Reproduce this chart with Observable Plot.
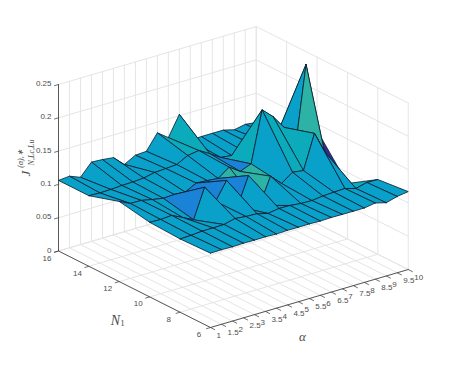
<!DOCTYPE html>
<html><head><meta charset="utf-8">
<style>html,body{margin:0;padding:0;background:#fff}svg{display:block}</style>
<script src="https://cdn.jsdelivr.net/npm/d3@7"></script>
<script src="https://cdn.jsdelivr.net/npm/@observablehq/plot@0.6"></script>
</head><body>
<script>
const alphaTicks = d3.range(1, 10.01, 0.5);
const nTicks = [6, 8, 10, 12, 14, 16];
const zTicks = [0, 0.05, 0.1, 0.15, 0.2, 0.25];

// surface heights, one row per N1, one value per alpha
const zN16 = [.106,.1075,.101,.119,.118,.116,.101,.110,.111,.134,.122,.152,.108,.109,.109,.109,.1047,.108,.106];
const zN14 = [.106,.1053,.1057,.1068,.1072,.1084,.1119,.1129,.1141,.1228,.1255,.116,.1054,.1035,.106,.109,.11,.111,.105];
const zN12 = [.1203,.1125,.1122,.1087,.1058,.1066,.1053,.114,.113,.1113,.1234,.1122,.1188,.195,.18,.159,.12,.244,.14];
const zN10 = [.112,.1114,.1126,.1047,.0964,.1405,.1143,.141,.097,.1387,.089,.128,.1123,.1243,.122,.173,.139,.05,.0832];
const zN8  = [.110,.1105,.112,.112,.1123,.1165,.1147,.114,.1096,.1122,.1119,.110,.1096,.1116,.1125,.1132,.1084,.1126,.1122];
const zN6  = [.1116,.112,.1115,.112,.1118,.112,.1113,.112,.1118,.112,.1115,.112,.1118,.1117,.1117,.1144,.110,.1146,.117];
const zRows = [zN6, zN8, zN10, zN12, zN14, zN16];

// facet shade per cell: row = lower N1 of the cell, column = lower alpha
const shadeN6  = "cccccccccccccccccc";
const shadeN8  = "ccccccccccccccccck";
const shadeN10 = "ccccbbbbbtttckkctn";
const shadeN12 = "cccccccccccbkccccc";
const shadeN14 = "ccccccccckkkcccccc";
const shadeRows = [shadeN6, shadeN8, shadeN10, shadeN12, shadeN14];
const shadeColors = {c: "#09a1ca", k: "#0babbb", t: "#2cb3a6", b: "#1a83d8", n: "#352a90"};

// view of the box: an oblique projection to the picture
const X = (a, n, z) => 210 + (a - 1) * 21.97 - (n - 6) * 15.2;
const Y = (a, n, z) => 327 - (a - 1) * 6.44 - (n - 6) * 7.65 - z * 666;
const pt = (a, n, z, id) => ({x: X(a, n, z), y: Y(a, n, z), id});

const aMin = 1, aMax = 10, nMin = 6, nMax = 16, zMax = 0.25;

// gridlines
const grid = [];
let g = 0;
for (const a of alphaTicks) {
  g++; grid.push(pt(a, nMin, 0, g), pt(a, nMax, 0, g), pt(a, nMax, zMax, g));
}
for (const n of nTicks) {
  g++; grid.push(pt(aMin, n, 0, g), pt(aMax, n, 0, g), pt(aMax, n, zMax, g));
}
for (const z of zTicks) {
  g++; grid.push(pt(aMin, nMax, z, g), pt(aMax, nMax, z, g), pt(aMax, nMin, z, g));
}

// surface facets, farthest first
const facets = [];
let f = 0;
for (let j = 4; j >= 0; j--) {
  for (let i = 17; i >= 0; i--) {
    const a0 = alphaTicks[i], a1 = alphaTicks[i + 1], n0 = nTicks[j], n1 = nTicks[j + 1];
    const shade = shadeColors[shadeRows[j][i]];
    f++;
    [[a0, n0, zRows[j][i]], [a1, n0, zRows[j][i + 1]], [a1, n1, zRows[j + 1][i + 1]], [a0, n1, zRows[j + 1][i]], [a0, n0, zRows[j][i]]]
      .forEach(([a, n, z]) => facets.push({...pt(a, n, z, f), shade}));
  }
}

// axis lines
const axes = [
  pt(aMin, nMax, zMax, "z"), pt(aMin, nMax, 0, "z"), pt(aMin, nMin, 0, "z"), pt(aMax, nMin, 0, "z")
];
const tick = (p, q) => ({x1: p.x, y1: p.y, x2: q.x, y2: q.y});
const ticks = [
  ...zTicks.map(z => tick(pt(aMin, nMax, z), pt(aMin - 0.2, nMax, z))),
  ...nTicks.map(n => tick(pt(aMin, n, 0), pt(aMin - 0.2, n, 0))),
  ...alphaTicks.map(a => tick(pt(a, nMin, 0), pt(a, nMin - 0.3, 0)))
];

const labelStyle = {fontFamily: "Liberation Sans, Arial, sans-serif", fontSize: 8, fill: "#4d4d4d"};
const serif = "Liberation Serif, Times New Roman, serif";

const plot = Plot.plot({
  width: 449, height: 368,
  margin: 0,
  x: {domain: [0, 449], range: [0, 449], axis: null},
  y: {domain: [0, 368], range: [0, 368], axis: null},
  color: {type: "identity"},
  marks: [
    Plot.line(grid, {x: "x", y: "y", z: "id", stroke: "#e5e5e5", strokeWidth: 1}),
    Plot.line(axes, {x: "x", y: "y", z: "id", stroke: "#333", strokeWidth: 0.8}),
    Plot.link(ticks, {x1: "x1", y1: "y1", x2: "x2", y2: "y2", stroke: "#333", strokeWidth: 0.7}),
    Plot.line(facets, {x: "x", y: "y", z: "id", fill: "shade", stroke: "#0b1c2c", strokeWidth: 0.8, strokeLinejoin: "round"}),
    Plot.text(zTicks, {x: z => X(aMin, nMax, z) - 7, y: z => Y(aMin, nMax, z) - 1, text: d => String(d), textAnchor: "end", ...labelStyle}),
    Plot.text(nTicks, {x: n => X(aMin, n, 0) - 11.5, y: n => Y(aMin, n, 0) + 7, text: d => String(d), ...labelStyle}),
    Plot.text(alphaTicks, {x: a => X(a, nMin, 0) + 6, y: a => Y(a, nMin, 0) + 8, text: d => String(d), textAnchor: "start", ...labelStyle}),
    Plot.text(["N"], {x: () => 115, y: () => 320, fontFamily: serif, fontStyle: "italic", fontSize: 14, fill: "#4d4d4d"}),
    Plot.text(["1"], {x: () => 122, y: () => 323, fontFamily: serif, fontSize: 9, fill: "#4d4d4d"}),
    Plot.text(["α"], {x: () => 302, y: () => 336, fontFamily: serif, fontStyle: "italic", fontSize: 13, fill: "#4d4d4d"}),
    Plot.text(["J"], {x: () => 25, y: () => 173, rotate: -90, fontFamily: serif, fontStyle: "italic", fontSize: 13, fill: "#4d4d4d"}),
    Plot.text(["(α),∗"], {x: () => 20, y: () => 158, rotate: -90, fontFamily: serif, fontStyle: "italic", fontSize: 8, fill: "#4d4d4d"}),
    Plot.text(["N,Lc,Lu"], {x: () => 31, y: () => 152, rotate: -90, fontFamily: serif, fontStyle: "italic", fontSize: 8, fill: "#4d4d4d"})
  ]
});
document.body.appendChild(plot);
</script>
</body></html>
